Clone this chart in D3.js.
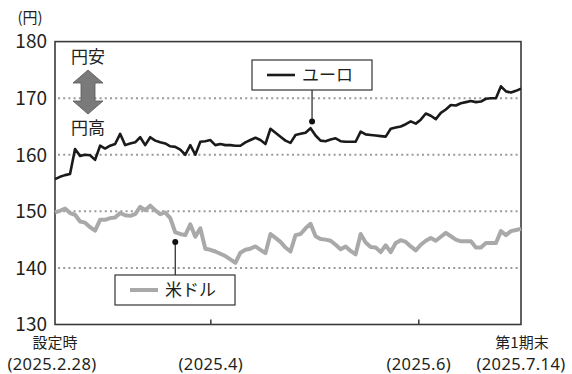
<!DOCTYPE html>
<html><head><meta charset="utf-8">
<script src="https://cdn.jsdelivr.net/npm/d3@7"></script>
<style>
html,body{margin:0;padding:0;background:#fff;}
svg{display:block;font-family:"Noto Sans CJK JP","Noto Sans",sans-serif;}
</style></head>
<body><svg id="c" width="572" height="374"></svg>
<script>
// ---- data ----
const euro = [155.7,156.1,156.4,156.6,161.0,159.8,160.0,159.9,159.1,161.6,
  161.1,161.6,161.9,163.7,161.7,162.0,162.2,163.1,161.7,163.1,
  162.5,162.2,162.0,161.5,161.4,160.9,160.0,161.7,160.0,162.3,
  162.4,162.6,161.7,161.9,161.7,161.7,161.6,161.6,162.2,162.6,
  163.0,162.6,161.9,164.6,163.9,163.2,162.5,162.1,163.5,163.7,
  163.9,164.7,163.4,162.5,162.4,162.7,162.9,162.4,162.3,162.3,
  162.3,164.1,163.6,163.5,163.4,163.3,163.2,164.6,164.8,165.0,
  165.4,165.9,165.5,166.2,167.3,166.9,166.3,167.4,168.0,168.8,
  168.7,169.1,169.3,169.5,169.3,169.4,169.9,170.0,170.0,172.1,
  171.2,171.0,171.3,171.7];
const usd = [149.8,150.1,150.5,149.7,149.4,148.2,148.0,147.2,146.6,148.5,
  148.5,148.8,148.9,149.7,149.3,149.2,149.5,150.8,150.2,151.0,
  150.2,149.5,149.8,148.8,146.3,146.0,145.8,147.7,145.5,147.0,
  143.4,143.2,142.9,142.5,142.1,141.5,140.9,142.7,143.2,143.4,
  143.8,143.2,142.6,146.0,145.3,144.6,143.6,142.9,145.8,146.0,
  147.0,147.8,145.6,145.1,145.0,144.8,144.1,143.3,143.8,143.0,
  142.4,146.0,144.5,143.7,143.6,142.8,144.0,142.8,144.4,144.9,
  144.6,143.8,143.1,144.1,144.8,145.3,144.8,145.5,146.2,145.6,
  145.0,144.7,144.7,144.7,143.6,143.6,144.4,144.4,144.4,146.5,
  145.8,146.5,146.7,146.9];
const yTicks = [130,140,150,160,170,180];
const gridValues = [140,150,160,170];
const xTickIdx = [31.1, 72.6];               // month starts (data index)
const xLabels = [
  {idx:0,  lines:["設定時","(2025.2.28)"]},
  {idx:31.1, lines:["","(2025.4)"]},
  {idx:72.6, lines:["","(2025.6)"]},
  {idx:93, lines:["第1期末","(2025.7.14)"]}
];
const seriesNames = ["ユーロ","米ドル"];
const unitLabel = "(円)";
const arrowLabels = ["円安","円高"];

// ---- layout ----
const svg = d3.select("#c");
const L = 55, R = 521, T = 41.6, B = 324.5;
const x = d3.scaleLinear().domain([0, euro.length-1]).range([L, R]);
const y = d3.scaleLinear().domain([130,180]).range([B, T]);
const txt = "#231f20";

// grid
svg.append("g").selectAll("line").data(gridValues).join("line")
  .attr("x1", L+3).attr("x2", R-3)
  .attr("y1", d=>y(d)).attr("y2", d=>y(d))
  .attr("stroke","#9a9a9a").attr("stroke-width",2)
  .attr("stroke-dasharray","2,3.2");

// frame
svg.append("rect").attr("x",L).attr("y",T).attr("width",R-L).attr("height",B-T)
  .attr("fill","none").attr("stroke","#3a3a3a").attr("stroke-width",1.6);

// bottom ticks
svg.append("g").selectAll("line").data(xTickIdx).join("line")
  .attr("x1",d=>x(d)).attr("x2",d=>x(d)).attr("y1",B).attr("y2",B-5)
  .attr("stroke","#3a3a3a").attr("stroke-width",1.5);

// y tick labels
svg.append("g").selectAll("text").data(yTicks).join("text")
  .attr("x", 47).attr("y", d=>y(d)).attr("dy","0.36em")
  .attr("text-anchor","end").attr("font-size",19).attr("fill",txt)
  .text(d=>d);
svg.append("text").attr("x",30).attr("y",23).attr("text-anchor","middle")
  .attr("font-size",15).attr("fill",txt).text(unitLabel);

// x labels
xLabels.forEach(l=>{
  const cx = l.idx===0 ? 52 : (l.idx===93 ? 521 : x(l.idx));
  if (l.lines[0]) svg.append("text").attr("text-anchor","middle").attr("fill",txt)
    .attr("x", l.idx===0?55:522).attr("y",347.5)
    .attr("font-size",15).text(l.lines[0]);
  svg.append("text").attr("text-anchor","middle").attr("fill",txt)
    .attr("x",cx).attr("y",369.5)
    .style("font-family","'Noto Sans',sans-serif")
    .attr("font-size",16.5).attr("letter-spacing",0.4).text(l.lines[1]);
});

// lines
const line = d3.line().x((d,i)=>x(i)).y(d=>y(d)).curve(d3.curveLinear);
svg.append("path").datum(usd).attr("d",line).attr("fill","none")
  .attr("stroke","#a9a9a9").attr("stroke-width",4).attr("stroke-linejoin","round");
svg.append("path").datum(euro).attr("d",line).attr("fill","none")
  .attr("stroke","#1a1a1a").attr("stroke-width",2.6).attr("stroke-linejoin","round");

// annotation legends
function legend(boxX, boxY, w, h, name, color, sw, ptIdx, ptVal) {
  const px = x(ptIdx), py = y(ptVal);
  const edgeY = (py < boxY) ? boxY : boxY + h;
  svg.append("line").attr("x1",px).attr("x2",px).attr("y1",edgeY).attr("y2",py)
    .attr("stroke","#222").attr("stroke-width",1.2);
  svg.append("circle").attr("cx",px).attr("cy",py).attr("r",3).attr("fill","#111");
  svg.append("rect").attr("x",boxX).attr("y",boxY).attr("width",w).attr("height",h)
    .attr("fill","#fff").attr("stroke","#333").attr("stroke-width",1.2);
  svg.append("line").attr("x1",boxX+15).attr("x2",boxX+43)
    .attr("y1",boxY+h/2).attr("y2",boxY+h/2).attr("stroke",color).attr("stroke-width",sw);
  svg.append("text").attr("x",boxX+50).attr("y",boxY+h/2).attr("dy","0.36em")
    .attr("font-size",17).attr("fill",txt).text(name);
}
legend(252, 60, 120, 30, seriesNames[0], "#1a1a1a", 2.6, 51.3, 165.9);
legend(115, 275, 120, 30, seriesNames[1], "#a9a9a9", 4, 24, 144.6);

// arrow (円安 / 円高)
const ax = 88, aTop = 70, aBot = 114, hw = 15, sh = 7, hh = 13;
svg.append("path")
  .attr("d", `M${ax},${aTop} L${ax+hw},${aTop+hh} L${ax+sh},${aTop+hh} L${ax+sh},${aBot-hh}
    L${ax+hw},${aBot-hh} L${ax},${aBot} L${ax-hw},${aBot-hh} L${ax-sh},${aBot-hh}
    L${ax-sh},${aTop+hh} L${ax-hw},${aTop+hh} Z`)
  .attr("fill","#7a7a7a").attr("stroke","#555").attr("stroke-width",0.8);
svg.append("text").attr("x",ax).attr("y",57).attr("dy","0.36em").attr("text-anchor","middle")
  .attr("font-size",17).attr("fill",txt).text(arrowLabels[0]);
svg.append("text").attr("x",ax).attr("y",128).attr("dy","0.36em").attr("text-anchor","middle")
  .attr("font-size",17).attr("fill",txt).text(arrowLabels[1]);
</script></body></html>
